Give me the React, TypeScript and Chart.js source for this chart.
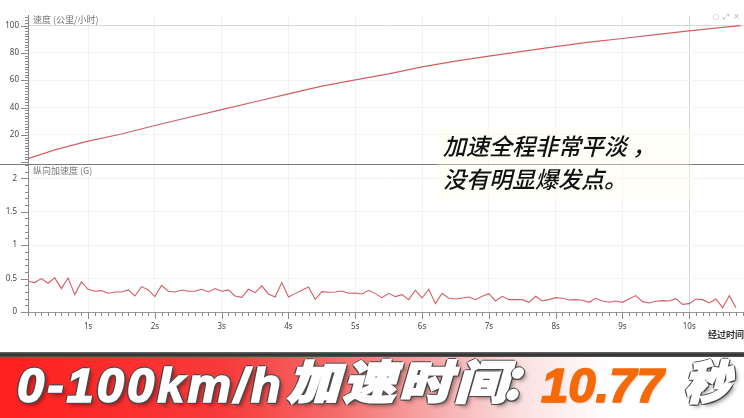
import React, { useEffect, useRef } from 'react';
import { Chart, registerables } from 'chart.js';

Chart.register(...registerables);

// ---------- data ----------
const SPEED_TIMES = [0.1, 0.5, 1.0, 1.5, 2.0, 2.5, 3.0, 3.5, 4.0, 4.5, 5.0, 5.5, 6.0, 6.5, 7.0, 7.5, 8.0, 8.5, 9.0, 9.5, 10.0, 10.5, 10.77];
const SPEED_KMH = [2.6, 9.0, 15.4, 20.6, 26.8, 32.7, 38.5, 44.2, 50.0, 55.6, 60.2, 64.6, 69.7, 73.9, 77.6, 81.1, 84.6, 87.9, 90.5, 93.4, 96.1, 98.6, 100];

const ACC_TIMES = [
  0.1, 0.2, 0.3, 0.4, 0.5, 0.6, 0.7, 0.8, 0.9, 1.0,
  1.1, 1.2, 1.3, 1.4, 1.5, 1.6, 1.7, 1.8, 1.9, 2.0,
  2.1, 2.2, 2.3, 2.4, 2.5, 2.6, 2.7, 2.8, 2.9, 3.0,
  3.1, 3.2, 3.3, 3.4, 3.5, 3.6, 3.7, 3.8, 3.9, 4.0,
  4.1, 4.2, 4.3, 4.4, 4.5, 4.6, 4.7, 4.8, 4.9, 5.0,
  5.1, 5.2, 5.3, 5.4, 5.5, 5.6, 5.7, 5.8, 5.9, 6.0,
  6.1, 6.2, 6.3, 6.4, 6.5, 6.6, 6.7, 6.8, 6.9, 7.0,
  7.1, 7.2, 7.3, 7.4, 7.5, 7.6, 7.7, 7.8, 7.9, 8.0,
  8.1, 8.2, 8.3, 8.4, 8.5, 8.6, 8.7, 8.8, 8.9, 9.0,
  9.1, 9.2, 9.3, 9.4, 9.5, 9.6, 9.7, 9.8, 9.9, 10.0,
  10.1, 10.2, 10.3, 10.4, 10.5, 10.6, 10.7,
];
const ACC_G = [
  0.46, 0.44, 0.50, 0.43, 0.51, 0.35, 0.51, 0.26, 0.45, 0.34,
  0.31, 0.32, 0.28, 0.30, 0.30, 0.33, 0.24, 0.38, 0.33, 0.23,
  0.40, 0.31, 0.30, 0.33, 0.31, 0.31, 0.34, 0.30, 0.35, 0.31,
  0.33, 0.24, 0.22, 0.34, 0.29, 0.39, 0.27, 0.225, 0.44, 0.225,
  0.275, 0.325, 0.375, 0.19, 0.305, 0.295, 0.30, 0.315, 0.28, 0.285,
  0.27, 0.325, 0.275, 0.215, 0.28, 0.23, 0.26, 0.185, 0.325, 0.21,
  0.34, 0.125, 0.28, 0.205, 0.195, 0.21, 0.225, 0.185, 0.235, 0.275,
  0.165, 0.235, 0.185, 0.185, 0.185, 0.145, 0.235, 0.165, 0.185, 0.215,
  0.205, 0.18, 0.185, 0.175, 0.145, 0.205, 0.165, 0.145, 0.165, 0.145,
  0.195, 0.245, 0.155, 0.135, 0.16, 0.17, 0.165, 0.20, 0.115, 0.125,
  0.195, 0.185, 0.135, 0.195, 0.065, 0.245, 0.065,
];

const X_TICKS = [1, 2, 3, 4, 5, 6, 7, 8, 9, 10];
const X_TICK_LABELS = ['1s', '2s', '3s', '4s', '5s', '6s', '7s', '8s', '9s', '10s'];
const SPEED_TICKS = [20, 40, 60, 80, 100];
const SPEED_TICK_LABELS = ['20', '40', '60', '80', '100'];
const ACC_TICKS = [0, 0.5, 1, 1.5, 2];
const ACC_TICK_LABELS = ['0', '0.5', '1', '1.5', '2'];

const LINE_COLOR = '#d25f64';
const TICK_FONT = { family: 'Noto Sans, DejaVu Sans, sans-serif', size: 8 };

const axisMarks = {
  id: 'axisMarks',
  afterDraw(chart: any) {
    const ctx = chart.ctx;
    const xs = chart.scales.x;
    const ys = chart.scales.ySpeed;
    const ya = chart.scales.yAcc;
    const left = chart.chartArea.left;
    ctx.save();
    ctx.lineWidth = 1;
    // separator between panels
    ctx.strokeStyle = '#7a7a7a';
    const sepY = Math.round(Math.max(ys.bottom, ya.top)) + 0.5;
    ctx.beginPath();
    ctx.moveTo(0, sepY);
    ctx.lineTo(chart.width, sepY);
    ctx.stroke();

    ctx.strokeStyle = '#8a8a8a';
    // speed axis ticks every 2
    for (let i = 0; i <= 53; i++) {
      const v = i * 2;
      const y = ys.getPixelForValue(v);
      if (y < ys.top || y > ys.bottom - 1) continue;
      const len = v % 20 === 0 ? 7 : 3;
      const yy = Math.round(y) + 0.5;
      ctx.beginPath();
      ctx.moveTo(left - len, yy);
      ctx.lineTo(left, yy);
      ctx.stroke();
    }
    // accel axis ticks every 0.1
    for (let i = 0; i <= 22; i++) {
      const y = ya.getPixelForValue(i / 10);
      if (y < ya.top + 1 || y > ya.bottom + 1) continue;
      const len = i % 5 === 0 ? 7 : 3;
      const yy = Math.round(y) + 0.5;
      ctx.beginPath();
      ctx.moveTo(left - len, yy);
      ctx.lineTo(left, yy);
      ctx.stroke();
    }
    // x axis ticks every 0.1 s
    const bottom = chart.chartArea.bottom;
    for (let i = 1; i <= 108; i++) {
      const x = xs.getPixelForValue(i / 10);
      if (x < xs.left || x > xs.right) continue;
      const len = i % 10 === 0 ? 7 : 4;
      const xx = Math.round(x) + 0.5;
      ctx.beginPath();
      ctx.moveTo(xx, bottom);
      ctx.lineTo(xx, bottom + len);
      ctx.stroke();
    }
    ctx.restore();
  },
};

export default function App() {
  const ref = useRef<HTMLCanvasElement>(null);

  useEffect(() => {
    const speedData = SPEED_TIMES.map((t, i) => ({ x: t, y: SPEED_KMH[i] }));
    const accData = ACC_TIMES.map((t, i) => ({ x: t, y: ACC_G[i] }));
    const chart = new Chart(ref.current as HTMLCanvasElement, {
      type: 'line',
      data: {
        datasets: [
          {
            label: '速度 (公里/小时)',
            data: speedData,
            xAxisID: 'x',
            yAxisID: 'ySpeed',
            borderColor: LINE_COLOR,
            borderWidth: 1.2,
            pointRadius: 0,
            tension: 0,
          },
          {
            label: '纵向加速度 (G)',
            data: accData,
            xAxisID: 'x',
            yAxisID: 'yAcc',
            borderColor: LINE_COLOR,
            borderWidth: 1.1,
            pointRadius: 0,
            tension: 0,
          },
        ],
      },
      options: {
        animation: false,
        responsive: false,
        maintainAspectRatio: false,
        devicePixelRatio: 1,
        layout: { padding: { top: 15, left: 0, right: 0, bottom: 0 } },
        plugins: { legend: { display: false }, tooltip: { enabled: false } },
        scales: {
          x: {
            type: 'linear',
            min: 0.1,
            max: 10.82,
            afterBuildTicks: (s: any) => {
              s.ticks = X_TICKS.map((v) => ({ value: v }));
            },
            afterFit: (s: any) => {
              s.height = 38;
            },
            ticks: {
              autoSkip: false,
              maxRotation: 0,
              padding: 10,
              color: '#444',
              font: TICK_FONT,
              callback: (v: any) => {
                const i = X_TICKS.indexOf(Number(v));
                return i >= 0 ? X_TICK_LABELS[i] : '';
              },
            },
            grid: {
              drawTicks: false,
              color: (c: any) => (c.tick && c.tick.value === 10 ? '#d4d4d4' : '#f3f3f3'),
            },
            border: { color: '#999' },
            title: {
              display: true,
              text: '经过时间',
              align: 'end',
              color: '#333',
              font: { family: 'Noto Sans CJK SC', size: 9, weight: 'bold' },
              padding: { top: 0, bottom: 10 },
            },
          },
          yAcc: {
            type: 'linear',
            position: 'left',
            stack: 'panels',
            stackWeight: 1,
            min: 0,
            max: 2.216,
            afterBuildTicks: (s: any) => {
              s.ticks = ACC_TICKS.map((v) => ({ value: v }));
            },
            afterFit: (s: any) => {
              s.width = 28;
            },
            ticks: {
              autoSkip: false,
              padding: 11,
              color: '#444',
              font: TICK_FONT,
              callback: (v: any) => {
                const i = ACC_TICKS.indexOf(Number(v));
                return i >= 0 ? ACC_TICK_LABELS[i] : '';
              },
            },
            grid: { drawTicks: false, color: '#f3f3f3' },
            border: { color: '#8a8a8a' },
          },
          ySpeed: {
            type: 'linear',
            position: 'left',
            stack: 'panels',
            stackWeight: 1,
            min: -1.28,
            max: 107.13,
            afterBuildTicks: (s: any) => {
              s.ticks = SPEED_TICKS.map((v) => ({ value: v }));
            },
            afterFit: (s: any) => {
              s.width = 28;
            },
            ticks: {
              autoSkip: false,
              padding: 9,
              color: '#444',
              font: TICK_FONT,
              callback: (v: any) => {
                const i = SPEED_TICKS.indexOf(Number(v));
                return i >= 0 ? SPEED_TICK_LABELS[i] : '';
              },
            },
            grid: {
              drawTicks: false,
              color: (c: any) => (c.tick && c.tick.value === 100 ? '#d8d8d8' : '#f3f3f3'),
            },
            border: { color: '#8a8a8a' },
          },
        },
      } as any,
      plugins: [axisMarks],
    });
    return () => chart.destroy();
  }, []);

  const outline =
    '-1.5px -1.5px 0 #4a4a4a, 1.5px -1.5px 0 #4a4a4a, -1.5px 1.5px 0 #4a4a4a, 1.5px 1.5px 0 #4a4a4a, 0 2.2px 0 #4a4a4a, 0 -2.2px 0 #4a4a4a, 2.2px 0 0 #4a4a4a, -2.2px 0 0 #4a4a4a, 3px 3px 4px rgba(0,0,0,0.45)';

  const latin: React.CSSProperties = {
    position: 'absolute',
    top: 361,
    fontFamily: '"Liberation Sans", Arial, sans-serif',
    fontWeight: 'bold',
    fontStyle: 'italic',
    fontSize: 49,
    lineHeight: '49px',
    whiteSpace: 'nowrap',
  };
  const cjk: React.CSSProperties = {
    position: 'absolute',
    top: 356,
    fontFamily: '"Noto Sans CJK SC", sans-serif',
    fontWeight: 900,
    fontStyle: 'italic',
    fontSize: 46,
    lineHeight: '46px',
    whiteSpace: 'nowrap',
    color: '#fff',
    textShadow: outline,
    WebkitTextStroke: '2px #fff',
  };

  return (
    <div
      style={{
        position: 'absolute',
        left: 0,
        top: 0,
        width: 744,
        height: 418,
        background: '#fff',
        overflow: 'hidden',
      }}
    >
      <canvas
        ref={ref}
        width={744}
        height={350}
        style={{ position: 'absolute', left: 0, top: 0, width: 744, height: 350 }}
      />
      {/* panel titles */}
      <div
        style={{
          position: 'absolute',
          left: 33,
          top: 14,
          fontFamily: '"Noto Sans CJK SC", sans-serif',
          fontSize: 9,
          lineHeight: '12px',
          color: '#777',
          whiteSpace: 'nowrap',
        }}
      >
        速度 (公里/小时)
      </div>
      <div
        style={{
          position: 'absolute',
          left: 33,
          top: 165,
          fontFamily: '"Noto Sans CJK SC", sans-serif',
          fontSize: 9,
          lineHeight: '12px',
          color: '#777',
          whiteSpace: 'nowrap',
        }}
      >
        纵向加速度 (G)
      </div>
      {/* tiny window icons */}
      <div
        style={{
          position: 'absolute',
          right: 0,
          top: 11,
          fontFamily: '"DejaVu Sans", sans-serif',
          fontSize: 8,
          lineHeight: '12px',
          color: '#b5b5b5',
          whiteSpace: 'nowrap',
          letterSpacing: 4,
        }}
      >
        ○⤢×
      </div>
      {/* annotation */}
      <div
        style={{
          position: 'absolute',
          left: 437,
          top: 128,
          width: 254,
          height: 72,
          background: 'rgba(255,255,232,0.35)',
        }}
      />
      <div
        style={{
          position: 'absolute',
          left: 443,
          top: 129,
          fontFamily: '"Noto Sans CJK SC", sans-serif',
          fontStyle: 'italic',
          fontWeight: 500,
          fontSize: 23,
          lineHeight: '33px',
          color: '#111',
          whiteSpace: 'nowrap',
          textShadow: '0 0 2px #fff',
        }}
      >
        <div>加速全程非常平淡 ，</div>
        <div>没有明显爆发点。</div>
      </div>
      {/* banner */}
      <div
        style={{
          position: 'absolute',
          left: 0,
          top: 352,
          width: 744,
          height: 5,
          background: 'linear-gradient(to bottom, #6a6a6a, #2e2e2e 55%, #555)',
        }}
      />
      <div
        style={{
          position: 'absolute',
          left: 0,
          top: 357,
          width: 744,
          height: 61,
          background:
            'linear-gradient(to right, #ff1f1f 0%, #f83a3a 30%, #f56a6a 45%, #f7a8a8 58%, #fbe0e0 70%, #ffffff 82%, #ffffff 100%)',
        }}
      />
      <div
        style={{
          ...latin,
          left: 17,
          color: '#fff',
          textShadow: outline,
          letterSpacing: 3,
          WebkitTextStroke: '1.6px #fff',
        }}
      >
        0-100km/h
      </div>
      <div style={{ ...cjk, left: 287, letterSpacing: 3, transform: 'scaleX(1.14)', transformOrigin: 'left center' }}>
        加速时间
      </div>
      <div style={{ ...cjk, left: 500 }}>：</div>
      <div
        style={{
          ...latin,
          left: 541,
          color: '#f56a08',
          textShadow: '1px 1px 2px rgba(120,40,0,0.35)',
          WebkitTextStroke: '1.6px #f56a08',
        }}
      >
        10.77
      </div>
      <div style={{ ...cjk, left: 684 }}>秒</div>
    </div>
  );
}
